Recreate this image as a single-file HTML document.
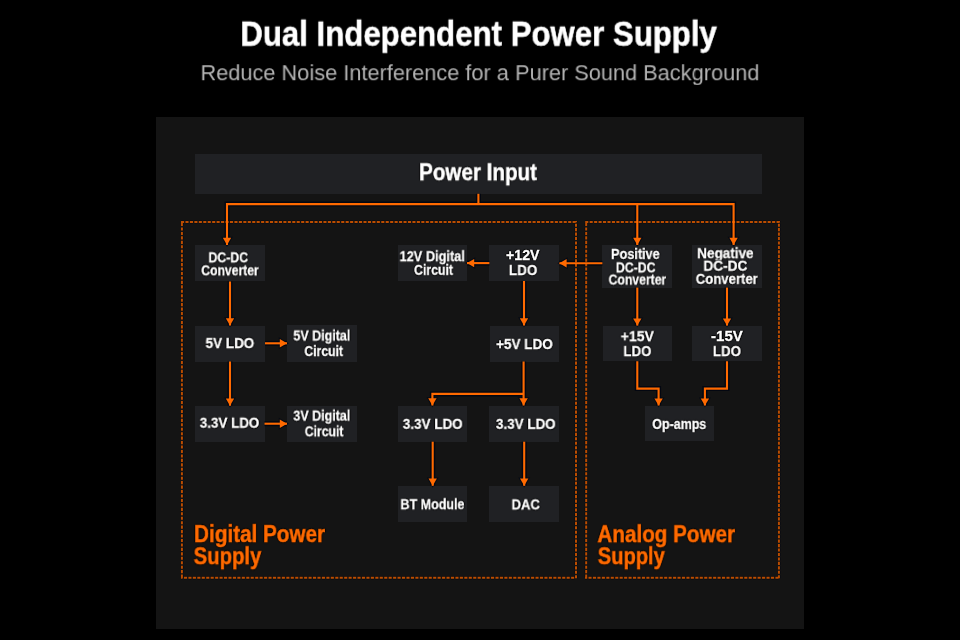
<!DOCTYPE html>
<html><head><meta charset="utf-8"><style>
*{margin:0;padding:0;box-sizing:border-box}
html,body{width:960px;height:640px;background:#000;overflow:hidden}
body{position:relative;font-family:"Liberation Sans",sans-serif}
.t{position:absolute;left:0;top:0;white-space:nowrap;line-height:1;transform-origin:0 0;will-change:transform}
.w{color:#fff;text-shadow:1px 0 1px #000,-1px 0 1px #000,0 1px 1px #000,0 -1px 1px #000}
.k{-webkit-text-stroke:0.3px currentColor}
.k2{-webkit-text-stroke:0.5px currentColor}
.b{position:absolute;background:#202124}
svg{position:absolute;left:0;top:0}
</style></head><body>
<div style="position:absolute;left:156px;top:117px;width:648px;height:512px;background:#141414"></div>

<div class="b" style="left:194.5px;top:153.75px;width:567.8px;height:40.05px"></div>
<div class="b" style="left:195px;top:245.2px;width:70px;height:36.3px"></div>
<div class="b" style="left:195px;top:325.5px;width:70px;height:36px"></div>
<div class="b" style="left:195px;top:405.7px;width:69.5px;height:35.9px"></div>
<div class="b" style="left:287px;top:325.4px;width:69.5px;height:36.2px"></div>
<div class="b" style="left:287px;top:405.6px;width:69.5px;height:36.1px"></div>
<div class="b" style="left:397.5px;top:245.1px;width:69.5px;height:36.1px"></div>
<div class="b" style="left:489.3px;top:245.1px;width:70px;height:35.9px"></div>
<div class="b" style="left:489.5px;top:325.5px;width:69.8px;height:36px"></div>
<div class="b" style="left:397.5px;top:405.7px;width:69.7px;height:36px"></div>
<div class="b" style="left:489.3px;top:405.7px;width:69.7px;height:36px"></div>
<div class="b" style="left:397.5px;top:485.9px;width:69.6px;height:36.1px"></div>
<div class="b" style="left:489.2px;top:485.8px;width:70.3px;height:36.3px"></div>
<div class="b" style="left:602.4px;top:245.1px;width:69.8px;height:42.5px"></div>
<div class="b" style="left:692.2px;top:245.1px;width:69.8px;height:42.5px"></div>
<div class="b" style="left:602.5px;top:325.6px;width:69.8px;height:35.7px"></div>
<div class="b" style="left:692px;top:325.6px;width:70px;height:35.7px"></div>
<div class="b" style="left:644.9px;top:405.7px;width:69.2px;height:35.8px"></div>
<svg width="960" height="640" viewBox="0 0 960 640">
<g fill="none" stroke="#000510" stroke-opacity="0.6" stroke-width="3.4" stroke-dasharray="3.1 1.35"><line x1="181" y1="221.9" x2="577" y2="221.9"/><line x1="181.9" y1="223" x2="181.9" y2="579"/><line x1="574.2" y1="577.8" x2="181" y2="577.8"/><line x1="576" y1="578.3" x2="576" y2="221"/><line x1="585.2" y1="221.9" x2="781" y2="221.9"/><line x1="586.2" y1="223" x2="586.2" y2="579"/><line x1="778.5" y1="577.8" x2="585" y2="577.8"/><line x1="778.9" y1="578.3" x2="778.9" y2="221"/></g>
<g fill="none" stroke="#000510" stroke-opacity="0.85" stroke-width="5" stroke-linejoin="miter"><path d="M478.4 193.8 L478.4 204.1"/><path d="M227 245 L227 204.1 L733.6 204.1 L733.6 245"/><path d="M637.3 204.1 L637.3 245"/><path d="M230 281.5 L230 325.5"/><path d="M230 361.5 L230 405.7"/><path d="M265 343.3 L287 343.3"/><path d="M264.5 423.7 L287 423.7"/><path d="M602.4 263.2 L559.4 263.2"/><path d="M489.4 263.1 L467 263.1"/><path d="M524 281 L524 325.5"/><path d="M523.6 361.5 L523.6 405.5"/><path d="M523.6 393.9 L432.4 393.9 L432.4 405.5"/><path d="M432.7 441.7 L432.7 485.8"/><path d="M524.2 441.7 L524.2 485.8"/><path d="M637.3 287.6 L637.3 325.6"/><path d="M727 287.6 L727 325.6"/><path d="M637.3 361.3 L637.3 388.6 L658.6 388.6 L658.6 405.6"/><path d="M727 361.3 L727 388.6 L704.9 388.6 L704.9 405.6"/></g>
<g fill="#000814" fill-opacity="0.8" stroke="#000814" stroke-opacity="0.8" stroke-width="2"><path d="M227 245 L222.8 237.8 L231.2 237.8Z"/><path d="M637.3 245 L633.1 237.8 L641.5 237.8Z"/><path d="M733.6 245 L729.4 237.8 L737.8 237.8Z"/><path d="M230 325.5 L225.8 318.3 L234.2 318.3Z"/><path d="M230 405.7 L225.8 398.5 L234.2 398.5Z"/><path d="M287 343.3 L279.8 339.1 L279.8 347.5Z"/><path d="M287 423.7 L279.8 419.5 L279.8 427.9Z"/><path d="M559.4 263.2 L566.6 259 L566.6 267.4Z"/><path d="M467 263.1 L474.2 258.9 L474.2 267.3Z"/><path d="M524 325.5 L519.8 318.3 L528.2 318.3Z"/><path d="M523.6 405.5 L519.4 398.3 L527.8 398.3Z"/><path d="M432.4 405.5 L428.2 398.3 L436.6 398.3Z"/><path d="M432.7 485.8 L428.5 478.6 L436.9 478.6Z"/><path d="M524.2 485.8 L520 478.6 L528.4 478.6Z"/><path d="M637.3 325.6 L633.1 318.4 L641.5 318.4Z"/><path d="M727 325.6 L722.8 318.4 L731.2 318.4Z"/><path d="M658.6 405.6 L654.4 398.4 L662.8 398.4Z"/><path d="M704.9 405.6 L700.7 398.4 L709.1 398.4Z"/></g>
<g fill="none" stroke="#bb4d00" stroke-width="2" stroke-dasharray="3.1 1.35"><line x1="181" y1="221.9" x2="577" y2="221.9"/><line x1="181.9" y1="223" x2="181.9" y2="579"/><line x1="574.2" y1="577.8" x2="181" y2="577.8"/><line x1="576" y1="578.3" x2="576" y2="221"/><line x1="585.2" y1="221.9" x2="781" y2="221.9"/><line x1="586.2" y1="223" x2="586.2" y2="579"/><line x1="778.5" y1="577.8" x2="585" y2="577.8"/><line x1="778.9" y1="578.3" x2="778.9" y2="221"/></g>
<g fill="none" stroke="#ff6a00" stroke-width="2.1" stroke-linejoin="miter"><path d="M478.4 193.8 L478.4 204.1"/><path d="M227 245 L227 204.1 L733.6 204.1 L733.6 245"/><path d="M637.3 204.1 L637.3 245"/><path d="M230 281.5 L230 325.5"/><path d="M230 361.5 L230 405.7"/><path d="M265 343.3 L287 343.3"/><path d="M264.5 423.7 L287 423.7"/><path d="M602.4 263.2 L559.4 263.2"/><path d="M489.4 263.1 L467 263.1"/><path d="M524 281 L524 325.5"/><path d="M523.6 361.5 L523.6 405.5"/><path d="M523.6 393.9 L432.4 393.9 L432.4 405.5"/><path d="M432.7 441.7 L432.7 485.8"/><path d="M524.2 441.7 L524.2 485.8"/><path d="M637.3 287.6 L637.3 325.6"/><path d="M727 287.6 L727 325.6"/><path d="M637.3 361.3 L637.3 388.6 L658.6 388.6 L658.6 405.6"/><path d="M727 361.3 L727 388.6 L704.9 388.6 L704.9 405.6"/></g>
<g fill="#ff6a00"><path d="M227 245 L222.8 237.8 L231.2 237.8Z"/><path d="M637.3 245 L633.1 237.8 L641.5 237.8Z"/><path d="M733.6 245 L729.4 237.8 L737.8 237.8Z"/><path d="M230 325.5 L225.8 318.3 L234.2 318.3Z"/><path d="M230 405.7 L225.8 398.5 L234.2 398.5Z"/><path d="M287 343.3 L279.8 339.1 L279.8 347.5Z"/><path d="M287 423.7 L279.8 419.5 L279.8 427.9Z"/><path d="M559.4 263.2 L566.6 259 L566.6 267.4Z"/><path d="M467 263.1 L474.2 258.9 L474.2 267.3Z"/><path d="M524 325.5 L519.8 318.3 L528.2 318.3Z"/><path d="M523.6 405.5 L519.4 398.3 L527.8 398.3Z"/><path d="M432.4 405.5 L428.2 398.3 L436.6 398.3Z"/><path d="M432.7 485.8 L428.5 478.6 L436.9 478.6Z"/><path d="M524.2 485.8 L520 478.6 L528.4 478.6Z"/><path d="M637.3 325.6 L633.1 318.4 L641.5 318.4Z"/><path d="M727 325.6 L722.8 318.4 L731.2 318.4Z"/><path d="M658.6 405.6 L654.4 398.4 L662.8 398.4Z"/><path d="M704.9 405.6 L700.7 398.4 L709.1 398.4Z"/></g>
</svg>
<div class="t w k2" style="transform:translate(240.31px,16.72px) scaleX(0.9021);font-size:34.59px;font-weight:700">Dual Independent Power Supply</div>
<div class="t" style="transform:translate(200.49px,62.23px) scaleX(0.9665);font-size:22.53px;font-weight:400;color:#b3b3b3">Reduce Noise Interference for a Purer Sound Background</div>
<div class="t w k2" style="transform:translate(419.13px,161.26px) scaleX(0.8739);font-size:23.55px;font-weight:700">Power Input</div>
<div class="t w k" style="transform:translate(208.45px,251.32px) scaleX(0.8907);font-size:13.8px;font-weight:700">DC-DC</div>
<div class="t w k" style="transform:translate(201.26px,264.32px) scaleX(0.8819);font-size:13.8px;font-weight:700">Converter</div>
<div class="t w k" style="transform:translate(205.55px,337.12px) scaleX(0.9772);font-size:13.8px;font-weight:700">5V LDO</div>
<div class="t w k" style="transform:translate(199.8px,416.72px) scaleX(0.9697);font-size:13.8px;font-weight:700">3.3V LDO</div>
<div class="t w k" style="transform:translate(293.33px,329.52px) scaleX(0.9068);font-size:13.8px;font-weight:700">5V Digital</div>
<div class="t w k" style="transform:translate(304.36px,345.12px) scaleX(0.8850);font-size:13.8px;font-weight:700">Circuit</div>
<div class="t w k" style="transform:translate(293.3px,409.62px) scaleX(0.9069);font-size:13.8px;font-weight:700">3V Digital</div>
<div class="t w k" style="transform:translate(304.73px,425.32px) scaleX(0.8856);font-size:13.8px;font-weight:700">Circuit</div>
<div class="t w k" style="transform:translate(399.53px,250.22px) scaleX(0.9260);font-size:13.8px;font-weight:700">12V Digital</div>
<div class="t w k" style="transform:translate(414.03px,263.82px) scaleX(0.8922);font-size:13.8px;font-weight:700">Circuit</div>
<div class="t w k" style="transform:translate(506.1px,248.72px) scaleX(1.0236);font-size:13.8px;font-weight:700">+12V</div>
<div class="t w k" style="transform:translate(508.92px,264.02px) scaleX(0.9719);font-size:13.8px;font-weight:700">LDO</div>
<div class="t w k" style="transform:translate(496.1px,338.02px) scaleX(0.9767);font-size:13.8px;font-weight:700">+5V LDO</div>
<div class="t w k" style="transform:translate(402.8px,417.82px) scaleX(0.9755);font-size:13.8px;font-weight:700">3.3V LDO</div>
<div class="t w k" style="transform:translate(495.95px,417.82px) scaleX(0.9729);font-size:13.8px;font-weight:700">3.3V LDO</div>
<div class="t w k" style="transform:translate(400.45px,498.22px) scaleX(0.9079);font-size:13.8px;font-weight:700">BT Module</div>
<div class="t w k" style="transform:translate(511.61px,498.42px) scaleX(0.9416);font-size:13.8px;font-weight:700">DAC</div>
<div class="t w k" style="transform:translate(611.09px,247.92px) scaleX(0.9175);font-size:13.8px;font-weight:700">Positive</div>
<div class="t w k" style="transform:translate(615.88px,261.42px) scaleX(0.8918);font-size:13.8px;font-weight:700">DC-DC</div>
<div class="t w k" style="transform:translate(608.59px,273.52px) scaleX(0.8840);font-size:13.8px;font-weight:700">Converter</div>
<div class="t w k" style="transform:translate(697.15px,247.22px) scaleX(0.9816);font-size:13.8px;font-weight:700">Negative</div>
<div class="t w k" style="transform:translate(703.41px,259.72px) scaleX(0.9885);font-size:13.8px;font-weight:700">DC-DC</div>
<div class="t w k" style="transform:translate(695.74px,272.82px) scaleX(0.9519);font-size:13.8px;font-weight:700">Converter</div>
<div class="t w k" style="transform:translate(620.74px,329.21px) scaleX(0.9714);font-size:14.4px;font-weight:700">+15V</div>
<div class="t w k" style="transform:translate(623.44px,345.12px) scaleX(0.9547);font-size:13.8px;font-weight:700">LDO</div>
<div class="t w k" style="transform:translate(711.1px,329.21px) scaleX(1.0432);font-size:14.4px;font-weight:700">-15V</div>
<div class="t w k" style="transform:translate(712.92px,345.12px) scaleX(0.9587);font-size:13.8px;font-weight:700">LDO</div>
<div class="t w k" style="transform:translate(652.24px,417.92px) scaleX(0.9044);font-size:13.8px;font-weight:700">Op-amps</div>
<div class="t k2" style="transform:translate(194.05px,523.09px) scaleX(0.8847);font-size:23.4px;font-weight:700;color:#ff6a00;text-shadow:1px 0 1px #000,-1px 0 1px #000,0 1px 1px #000,0 -1px 1px #000">Digital Power</div>
<div class="t k2" style="transform:translate(193.58px,545.21px) scaleX(0.8755);font-size:23.26px;font-weight:700;color:#ff6a00;text-shadow:1px 0 1px #000,-1px 0 1px #000,0 1px 1px #000,0 -1px 1px #000">Supply</div>
<div class="t k2" style="transform:translate(597.36px,523.21px) scaleX(0.8885);font-size:23.26px;font-weight:700;color:#ff6a00;text-shadow:1px 0 1px #000,-1px 0 1px #000,0 1px 1px #000,0 -1px 1px #000">Analog Power</div>
<div class="t k2" style="transform:translate(597.69px,545.21px) scaleX(0.8672);font-size:23.26px;font-weight:700;color:#ff6a00;text-shadow:1px 0 1px #000,-1px 0 1px #000,0 1px 1px #000,0 -1px 1px #000">Supply</div>
</body></html>
